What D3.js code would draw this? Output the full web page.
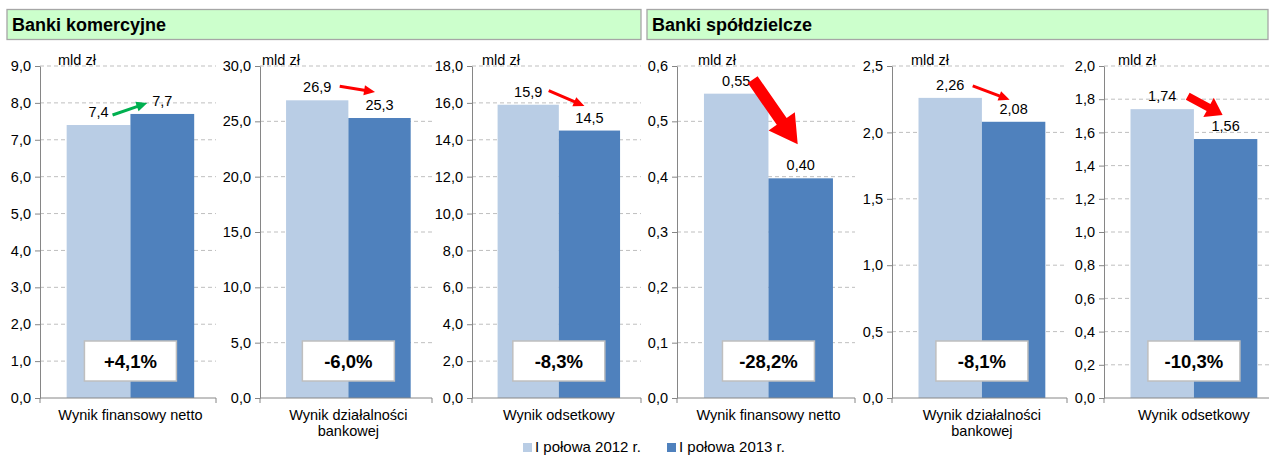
<!DOCTYPE html>
<html><head><meta charset="utf-8">
<script src="https://cdn.jsdelivr.net/npm/d3@7"></script>
<style>
html,body{margin:0;padding:0;background:#fff;}
svg{display:block;font-family:"Liberation Sans",Arial,sans-serif;}
</style></head>
<body>
<svg id="chart" width="1269" height="455"></svg>
<script>
// ---- data ----
const groups = ["Banki komercyjne", "Banki spółdzielcze"];
const categories = ["Wynik finansowy netto", "Wynik działalności\nbankowej", "Wynik odsetkowy",
                    "Wynik finansowy netto", "Wynik działalności\nbankowej", "Wynik odsetkowy"];
const seriesNames = ["I połowa 2012 r.", "I połowa 2013 r."];
const values2012 = [7.4, 26.9, 15.9, 0.55, 2.26, 1.74];
const values2013 = [7.7, 25.3, 14.5, 0.397, 2.08, 1.56];
const valueDecimals = [1, 1, 1, 2, 2, 2];
const changes = ["+4,1%", "-6,0%", "-8,3%", "-28,2%", "-8,1%", "-10,3%"];
const yMax = [9, 30, 18, 0.6, 2.5, 2.0];
const yTicks = [
  [0,1,2,3,4,5,6,7,8,9],
  [0,5,10,15,20,25,30],
  [0,2,4,6,8,10,12,14,16,18],
  [0,0.1,0.2,0.3,0.4,0.5,0.6],
  [0,0.5,1.0,1.5,2.0,2.5],
  [0,0.2,0.4,0.6,0.8,1.0,1.2,1.4,1.6,1.8,2.0]
];
const unitLabel = "mld zł";
const arrowColors = ["#00B050", "#FF0000", "#FF0000", "#FF0000", "#FF0000", "#FF0000"];

// ---- layout ----
const colors = ["#B9CDE5", "#4F81BD"];
const panelLeft = [40, 260, 472, 677, 892, 1104];
const panelWidth = [176, 172, 169, 178, 175, 175];
const plotTop = 66, plotBottom = 398;
const unitDx = [18, 2, 10, 21, 19, 14];
// arrow geometry: offsets from bar centre/top
const arrowStart = [[14,-10],[22.5,-14],[20.5,-14],[16.5,-14],[22.5,-12],[25.5,-13]];
const arrowEnd = [[-15,-11],[-4.5,-26],[-5,-24.5],[-3,-34],[-4,-22],[-3,-24]];
const arrowShaft = [3,3,3,12,3,8];
const arrowHeadW = [10,10,10,32,10,22];
const arrowHeadL = [11,11,11,28,11,16];
const FS = 14.5;

const svg = d3.select("#chart");
const fmt = d => d.toFixed(1).replace(".", ",");

// headers
const headers = [{x:7, w:634}, {x:647, w:621}];
headers.forEach((h,i) => {
  svg.append("rect").attr("x", h.x).attr("y", 9.5).attr("width", h.w).attr("height", 30)
    .attr("fill", "#CCFFCC").attr("stroke", "#A6A6A6").attr("stroke-width", 1.3);
  svg.append("text").attr("x", h.x + 5).attr("y", 31).attr("font-size", 18).attr("font-weight", "bold")
    .attr("fill", "#000").text(groups[i]);
});

categories.forEach((cat, i) => {
  const L = panelLeft[i], R = L + panelWidth[i];
  const y = d3.scaleLinear().domain([0, yMax[i]]).range([plotBottom, plotTop]);
  const xc = d3.scaleBand().domain([cat]).range([L, R]).paddingOuter(0.19).paddingInner(0).align(0.55);
  const xs = d3.scaleBand().domain([0,1]).range([xc(cat), xc(cat) + xc.bandwidth()]).padding(0);
  const g = svg.append("g");
  const vals = [values2012[i], values2013[i]];

  // gridlines
  g.selectAll("line.grid").data(yTicks[i].filter(t => t > 0)).join("line")
    .attr("x1", L).attr("x2", R).attr("y1", d => y(d)).attr("y2", d => y(d))
    .attr("stroke", "#BFBFBF").attr("stroke-width", 1).attr("stroke-dasharray", "4,3");

  // bars
  g.selectAll("rect.bar").data(vals).join("rect")
    .attr("x", (d,j) => xs(j)).attr("width", xs.bandwidth())
    .attr("y", d => y(d)).attr("height", d => y(0) - y(d))
    .attr("fill", (d,j) => colors[j]);

  // y axis
  const ax = g.append("g").attr("transform", `translate(${L},0)`)
    .call(d3.axisLeft(y).tickValues(yTicks[i]).tickFormat(fmt).tickSize(5).tickSizeOuter(0));
  ax.select(".domain").attr("stroke", "#868686");
  ax.selectAll(".tick line").attr("stroke", "#868686");
  ax.selectAll(".tick text").attr("font-size", FS).attr("fill", "#000").attr("x", -9)
    .attr("font-family", "Liberation Sans, Arial, sans-serif");

  // x axis line
  g.append("line").attr("x1", L).attr("x2", R).attr("y1", y(0)).attr("y2", y(0)).attr("stroke", "#868686");
  [L, R].forEach(xx => g.append("line").attr("x1", xx).attr("x2", xx).attr("y1", y(0)).attr("y2", y(0) + 5).attr("stroke", "#868686"));

  // unit label
  g.append("text").attr("x", L + unitDx[i]).attr("y", plotTop - 1).attr("font-size", FS).attr("fill", "#000").text(unitLabel);

  // value labels
  g.selectAll("text.val").data(vals).join("text")
    .attr("x", (d,j) => xs(j) + xs.bandwidth()/2).attr("y", d => y(d) - 8)
    .attr("text-anchor", "middle").attr("font-size", FS).attr("fill", "#000")
    .text(d => d.toFixed(valueDecimals[i]).replace(".", ","));

  // category label
  const lines = cat.split("\n");
  const ct = g.append("text").attr("text-anchor", "middle").attr("font-size", FS).attr("fill", "#000");
  lines.forEach((ln, k) => ct.append("tspan").attr("x", xc(cat) + xc.bandwidth()/2).attr("y", 420 + k*16).text(ln));

  // change box
  const cx = xc(cat) + xc.bandwidth()/2;
  g.append("rect").attr("x", cx - 46).attr("y", 341).attr("width", 92).attr("height", 40)
    .attr("fill", "#fff").attr("stroke", "#BFBFBF").attr("stroke-width", 1.5);
  g.append("text").attr("x", cx).attr("y", 367.5).attr("text-anchor", "middle")
    .attr("font-size", 18.5).attr("font-weight", "bold").attr("fill", "#000").text(changes[i]);

  // arrow
  const c0 = xs(0) + xs.bandwidth()/2, c1 = xs(1) + xs.bandwidth()/2;
  const S = [c0 + arrowStart[i][0], y(vals[0]) + arrowStart[i][1]];
  const E = [c1 + arrowEnd[i][0], y(vals[1]) + arrowEnd[i][1]];
  const dx = E[0]-S[0], dy = E[1]-S[1], len = Math.hypot(dx, dy);
  const u = [dx/len, dy/len], n = [-u[1], u[0]];
  const hl = arrowHeadL[i], s = arrowShaft[i]/2, h = arrowHeadW[i]/2;
  const B = [E[0]-u[0]*hl, E[1]-u[1]*hl];
  const pts = [
    [S[0]+n[0]*s, S[1]+n[1]*s], [B[0]+n[0]*s, B[1]+n[1]*s], [B[0]+n[0]*h, B[1]+n[1]*h], E,
    [B[0]-n[0]*h, B[1]-n[1]*h], [B[0]-n[0]*s, B[1]-n[1]*s], [S[0]-n[0]*s, S[1]-n[1]*s]
  ];
  g.append("path").attr("d", d3.line()(pts) + "Z").attr("fill", arrowColors[i]);
});

// legend
const legendX = [523, 667];
seriesNames.forEach((nm, j) => {
  svg.append("rect").attr("x", legendX[j]).attr("y", 443).attr("width", 9).attr("height", 9).attr("fill", colors[j]);
  svg.append("text").attr("x", legendX[j] + 12).attr("y", 452).attr("font-size", 15).attr("fill", "#000").text(nm);
});
</script>
</body></html>
